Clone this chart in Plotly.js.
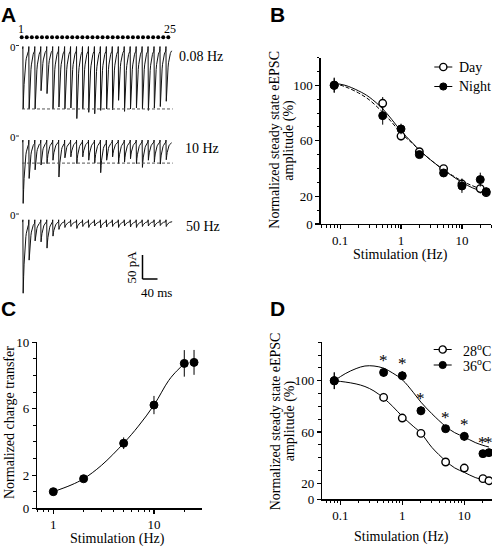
<!DOCTYPE html>
<html><head><meta charset="utf-8">
<script src="https://cdn.plot.ly/plotly-3.0.1.min.js"></script>
<style>html,body{margin:0;padding:0;background:#fff;}#chart{width:494px;height:548px;}</style>
</head><body><div id="chart"></div>
<script>
// ---------- Panel A: EPSC peak amplitudes (pA) per pulse ----------
const pulseLabels = ['1', '25'];
const amp008 = [126,126,126,88,94,126,122,126,124,146,126,133,136,129,126,128,108,131,126,124,126,129,124,121,110];
const amp10  = [128,76,58,48,45,38,73,33,31,45,31,38,44,64,38,31,45,42,35,45,53,38,42,46,37];
const amp50  = [149,80,40,42,55,30,16,12,10,14,10,12,9,13,11,10,12,9,11,12,10,9,11,8,10];
const dashLevel008 = 126;   // pA
const dashLevel10 = 44;     // pA
const freqLabelsA = ['0.08 Hz', '10 Hz', '50 Hz'];
const stimDots = [1,2,3,4,5,6,7,8,9,10,11,12,13,14,15,16,17,18,19,20,21,22,23,24,25,26,27,28,29,30];
const scaleBarPA = 50, scaleBarMS = 40;

// ---------- Panel B ----------
const freqB = [0.08, 0.5, 1, 2, 5, 10, 20, 25];
const dayB = [100, 87, 63.4, 52.1, 39.9, 28.8, 25.5, 22.6];
const dayErrB = [5, 4.5, 3.2, 2.5, 2.5, 4, 3.5, 3];
const nightB = [100, 78.1, 68.5, 50, 36.8, 27.4, 32, 23.3];
const nightErrB = [5.5, 6.5, 3.8, 2, 2, 5, 5, 3];
const fitFreqB = [0.08, 0.12, 0.2, 0.3, 0.5, 0.7, 1, 1.5, 2, 3, 5, 7, 10, 15, 20, 25];
const fitDayB = [101.4, 100, 96, 91.5, 83, 75.5, 67, 59, 53.3, 46.5, 39, 34.5, 30, 26, 24, 22.8];
const fitNightB = [101.4, 99, 94.5, 89.5, 80.5, 73.5, 65.5, 58.5, 53.3, 46.5, 39, 35, 31, 27.5, 25.5, 24.5];
const yTicksB = [0, 20, 60, 100];

// ---------- Panel C ----------
const freqC = [1, 2, 5, 10, 20, 25];
const chargeC = [1.0, 1.78, 3.92, 6.22, 8.73, 8.79];
const chargeErrC = [0.1, 0.12, 0.35, 0.55, 0.8, 0.75];
const fitFreqC = [1, 1.5, 2, 3, 5, 7, 10, 14, 17, 20];
const fitC = [1.0, 1.4, 1.78, 2.58, 3.92, 4.95, 6.22, 7.7, 8.3, 8.7];
const yTicksC = [0, 2, 6, 10];

// ---------- Panel D ----------
const freqD = [0.08, 0.5, 1, 2, 5, 10, 20, 25];
const coolD = [100, 87, 70.9, 58.9, 36.6, 31.9, 23.6, 22];          // 28 oC
const coolErrD = [6.5, 3.5, 2.5, 2.5, 2, 2.5, 2, 1.5];
const warmD = [100, 106.5, 103.9, 76.6, 62.6, 56.6, 43.1, 43.9];     // 36 oC
const warmErrD = [6.5, 3.5, 3.5, 3.5, 2.5, 3.5, 2.5, 2];
const fitFreqD = [0.08, 0.12, 0.18, 0.25, 0.35, 0.5, 0.7, 1, 1.5, 2, 3, 5, 7, 10, 15, 20, 25];
const fitWarmD = [100, 105.5, 109.5, 111.5, 111.5, 109.8, 106, 100.8, 91, 83.3, 74.3, 64.4, 59.5, 56.1, 51.8, 49.6, 48.3];
const fitCoolD = [100, 99, 97.5, 95.5, 92, 86.5, 80, 72.2, 64.5, 59.2, 48, 37.5, 32, 28.5, 24.5, 22.8, 21.8];
const starFreqD = [0.5, 1, 2, 5, 10, 20, 25];
const yTicksD = [7.5, 20, 60, 100];
const yTickTextD = ['0', '20', '60', '100'];

// ---------- helpers ----------
const W = 494, H = 548;
const PX = x => x / W, PY = y => 1 - y / H;
const SERIF = 'Liberation Serif, Times New Roman, serif';
const SANS = 'Liberation Sans, Arial, sans-serif';
const BLACK = '#000000';

// Panel A trace geometry (trace axis units: ms and pA)
const A_T0 = 60.5, A_DT = 15.9, A_TEND = 459, A_ART = 4, A_TAU = 4.6;
const baseA = [524, 329.2, 163.1];
function epsc(amps, base, extendTo) {
  const xs = [A_T0 - 1.5], ys = [base];
  amps.forEach((a, i) => {
    const t = A_T0 + i * A_DT;
    xs.push(t, t + 0.5, t + 1.3); ys.push(base, base + A_ART, base - a);
    for (let s = 1.2; s < A_DT - 1.3; s += 1.2) { xs.push(t + 1.3 + s); ys.push(base - a * Math.exp(-s / A_TAU)); }
  });
  if (extendTo) { xs.push(extendTo); ys.push(base); }
  return {x: xs, y: ys, xaxis: 'x4', yaxis: 'y4', type: 'scatter', mode: 'lines',
          line: {color: '#111', width: 1}, hoverinfo: 'skip', showlegend: false};
}

const eb = arr => ({type: 'data', array: arr, visible: true, thickness: 1, width: 0, color: BLACK});
const filled = {size: 8, color: BLACK, line: {color: BLACK, width: 1}};
const open = {size: 7.5, color: '#fff', line: {color: BLACK, width: 1.4}};

const traces = [
  epsc(amp008, baseA[0]),
  epsc(amp10, baseA[1]),
  epsc(amp50, baseA[2], A_TEND),
  {x: stimDots.map(i => 57.9 + (i - 1) * (448.8 - 57.9) / (stimDots.length - 1)), y: stimDots.map(() => 547.3),
   xaxis: 'x4', yaxis: 'y4', type: 'scatter', mode: 'markers', marker: {size: 4, color: BLACK}, showlegend: false, hoverinfo: 'skip'},
  // B
  {x: fitFreqB, y: fitDayB, xaxis: 'x', yaxis: 'y', mode: 'lines', line: {color: BLACK, width: 1, shape: 'spline'}, showlegend: false},
  {x: fitFreqB, y: fitNightB, xaxis: 'x', yaxis: 'y', mode: 'lines', line: {color: BLACK, width: 1, shape: 'spline', dash: '4px,2px'}, showlegend: false},
  {x: freqB, y: dayB, error_y: eb(dayErrB), xaxis: 'x', yaxis: 'y', mode: 'markers', marker: open, showlegend: false},
  {x: freqB, y: nightB, error_y: eb(nightErrB), xaxis: 'x', yaxis: 'y', mode: 'markers', marker: filled, showlegend: false},
  // C
  {x: fitFreqC, y: fitC, xaxis: 'x2', yaxis: 'y2', mode: 'lines', line: {color: BLACK, width: 1, shape: 'spline'}, showlegend: false},
  {x: freqC, y: chargeC, error_y: eb(chargeErrC), xaxis: 'x2', yaxis: 'y2', mode: 'markers', marker: filled, showlegend: false},
  // D
  {x: fitFreqD, y: fitWarmD, xaxis: 'x3', yaxis: 'y3', mode: 'lines', line: {color: BLACK, width: 1, shape: 'spline'}, showlegend: false},
  {x: fitFreqD, y: fitCoolD, xaxis: 'x3', yaxis: 'y3', mode: 'lines', line: {color: BLACK, width: 1, shape: 'spline'}, showlegend: false},
  {x: freqD, y: coolD, error_y: eb(coolErrD), xaxis: 'x3', yaxis: 'y3', mode: 'markers', marker: open, showlegend: false},
  {x: freqD, y: warmD, error_y: eb(warmErrD), xaxis: 'x3', yaxis: 'y3', mode: 'markers', marker: filled, showlegend: false}
];

const tickFont = {family: SERIF, size: 13, color: BLACK};
function baseAxis(extra) {
  return Object.assign({showline: true, linecolor: BLACK, linewidth: 1.4, showgrid: false, zeroline: false,
    ticks: 'outside', ticklen: 4, tickwidth: 1.2, tickcolor: BLACK, tickfont: tickFont, fixedrange: true}, extra);
}
function logMinors(lo, hi) {
  const out = [];
  for (let e = lo; e <= hi; e++) for (let m = 2; m <= 9; m++) out.push(m * Math.pow(10, e));
  return out;
}
const minorStyle = {ticks: 'outside', ticklen: 2.5, tickwidth: 1, tickcolor: BLACK};

const shapes = [];
const annotations = [];
function ann(text, x, y, opts) {
  annotations.push(Object.assign({text, x: PX(x), y: PY(y), xref: 'paper', yref: 'paper', showarrow: false,
    font: {family: SERIF, size: 14, color: BLACK}, xanchor: 'center', yanchor: 'middle'}, opts || {}));
}
// panel letters
[['A', 8.5, 14.5], ['B', 277.2, 14.7], ['C', 8.8, 308.2], ['D', 277.2, 308.2]].forEach(([t, x, y]) =>
  ann('<b>' + t + '</b>', x, y, {font: {family: SANS, size: 21, color: BLACK}}));

// Panel A labels
ann(pulseLabels[0], 21, 29, {font: {family: SERIF, size: 12, color: BLACK}});
ann(pulseLabels[1], 170, 29, {font: {family: SERIF, size: 12, color: BLACK}});
ann(freqLabelsA[0], 176.5, 56.7, {xanchor: 'left'});
ann(freqLabelsA[1], 183, 149, {xanchor: 'left'});
ann(freqLabelsA[2], 184, 226.7, {xanchor: 'left'});
[[46.5], [137], [215]].forEach(([y]) => {
  ann('0', 12.5, y, {font: {family: SERIF, size: 11, color: BLACK}});
  shapes.push({type: 'line', xref: 'paper', yref: 'paper', x0: PX(16), x1: PX(19), y0: PY(y - 1), y1: PY(y - 1), line: {color: BLACK, width: 0.8}});
});
// dashed reference lines (trace axis units)
shapes.push({type: 'line', xref: 'x4', yref: 'y4', x0: 58.7, x1: 460.5, y0: baseA[0] - dashLevel008, y1: baseA[0] - dashLevel008, line: {color: '#555', width: 1, dash: '3px,2px'}});
shapes.push({type: 'line', xref: 'x4', yref: 'y4', x0: 58.7, x1: 460.5, y0: baseA[1] - dashLevel10, y1: baseA[1] - dashLevel10, line: {color: '#555', width: 1, dash: '3px,2px'}});
// scale bar
const sbX = 380, sbY = 43.75;
shapes.push({type: 'line', xref: 'x4', yref: 'y4', x0: sbX, x1: sbX, y0: sbY, y1: sbY + scaleBarPA, line: {color: BLACK, width: 1.5}});
shapes.push({type: 'line', xref: 'x4', yref: 'y4', x0: sbX, x1: sbX + scaleBarMS, y0: sbY, y1: sbY, line: {color: BLACK, width: 1.5}});
ann(scaleBarPA + ' pA', 130.5, 267, {textangle: -90, font: {family: SERIF, size: 13, color: BLACK}});
ann(scaleBarMS + ' ms', 156, 292, {font: {family: SERIF, size: 13, color: BLACK}});

// axis titles
ann('Normalized steady state eEPSC', 273.7, 140, {textangle: -90});
ann('amplitude (%)', 288.7, 140, {textangle: -90});
ann('Stimulation (Hz)', 400, 255);
ann('Normalized charge transfer', 9, 423, {textangle: -90});
ann('Stimulation (Hz)', 117.5, 539);
ann('Normalized steady state eEPSC', 275.3, 421, {textangle: -90});
ann('amplitude (%)', 290.3, 421, {textangle: -90});
ann('Stimulation (Hz)', 401, 537.3);

// legends (drawn)
function legendItem(x, y, isFilled, label, tx) {
  shapes.push({type: 'line', xref: 'paper', yref: 'paper', x0: PX(x - 9), x1: PX(x + 9), y0: PY(y), y1: PY(y), line: {color: BLACK, width: 1}});
  const r = 3.6;
  shapes.push({type: 'circle', xref: 'paper', yref: 'paper', x0: PX(x - r), x1: PX(x + r), y0: PY(y - r), y1: PY(y + r),
    fillcolor: isFilled ? BLACK : '#fff', line: {color: BLACK, width: isFilled ? 1 : 1.4}});
  ann(label, tx, y, {xanchor: 'left'});
}
legendItem(443.3, 67, false, 'Day', 456.5);
legendItem(443.3, 86.5, true, 'Night', 456.5);
legendItem(442.7, 349.5, false, '28<sup>o</sup>C', 461);
legendItem(442.7, 365, true, '36<sup>o</sup>C', 461);

// significance stars
starFreqD.forEach(f => {
  const i = freqD.indexOf(f);
  annotations.push({text: '*', xref: 'x3', yref: 'y3', x: Math.log10(f), y: warmD[i] + warmErrD[i], yanchor: 'bottom', xanchor: 'center',
    yshift: -4, showarrow: false, font: {family: SERIF, size: 17, color: BLACK}});
});

const layout = {
  width: W, height: H, margin: {l: 0, r: 0, t: 0, b: 0}, paper_bgcolor: '#fff', plot_bgcolor: 'rgba(0,0,0,0)',
  showlegend: false, font: {family: SERIF, color: BLACK},
  xaxis: baseAxis({type: 'log', domain: [PX(320.7), PX(491)], range: [Math.log10(0.048), Math.log10(30)], anchor: 'y',
    tickmode: 'array', tickvals: [0.1, 1, 10], ticktext: ['0.1', '1', '10'],
    minor: Object.assign({tickmode: 'array', tickvals: logMinors(-2, 1)}, minorStyle)}),
  yaxis: baseAxis({domain: [PY(224), PY(57.5)], range: [0, 120], anchor: 'x', tickmode: 'array', tickvals: yTicksB,
    minor: Object.assign({dtick: 10, tick0: 0}, minorStyle)}),
  xaxis2: baseAxis({type: 'log', domain: [PX(37.3), PX(201.7)], range: [-0.159, 1.474], anchor: 'y2',
    tickmode: 'array', tickvals: [1, 10], ticktext: ['1', '10'],
    minor: Object.assign({tickmode: 'array', tickvals: logMinors(-1, 1)}, minorStyle)}),
  yaxis2: baseAxis({domain: [PY(508.3), PY(342.3)], range: [0, 10], anchor: 'x2', tickmode: 'array', tickvals: yTicksC,
    minor: Object.assign({dtick: 1, tick0: 0}, minorStyle)}),
  xaxis3: baseAxis({type: 'log', domain: [PX(322.3), PX(492)], range: [-1.29, 1.447], anchor: 'y3',
    tickmode: 'array', tickvals: [0.1, 1, 10], ticktext: ['0.1', '1', '10'],
    minor: Object.assign({tickmode: 'array', tickvals: logMinors(-2, 1)}, minorStyle)}),
  yaxis3: baseAxis({domain: [PY(499.3), PY(342.3)], range: [7.5, 130], anchor: 'x3', tickmode: 'array', tickvals: yTicksD, ticktext: yTickTextD,
    minor: Object.assign({tickmode: 'array', tickvals: [30, 40, 50, 70, 80, 90, 110, 120, 130]}, minorStyle)}),
  xaxis4: {domain: [0, PX(180)], range: [0, 480], visible: false, fixedrange: true, anchor: 'y4'},
  yaxis4: {domain: [PY(300), 1], range: [0, 625], visible: false, fixedrange: true, anchor: 'x4'},
  shapes, annotations
};

Plotly.newPlot('chart', traces, layout, {staticPlot: true, displayModeBar: false});
</script></body></html>
